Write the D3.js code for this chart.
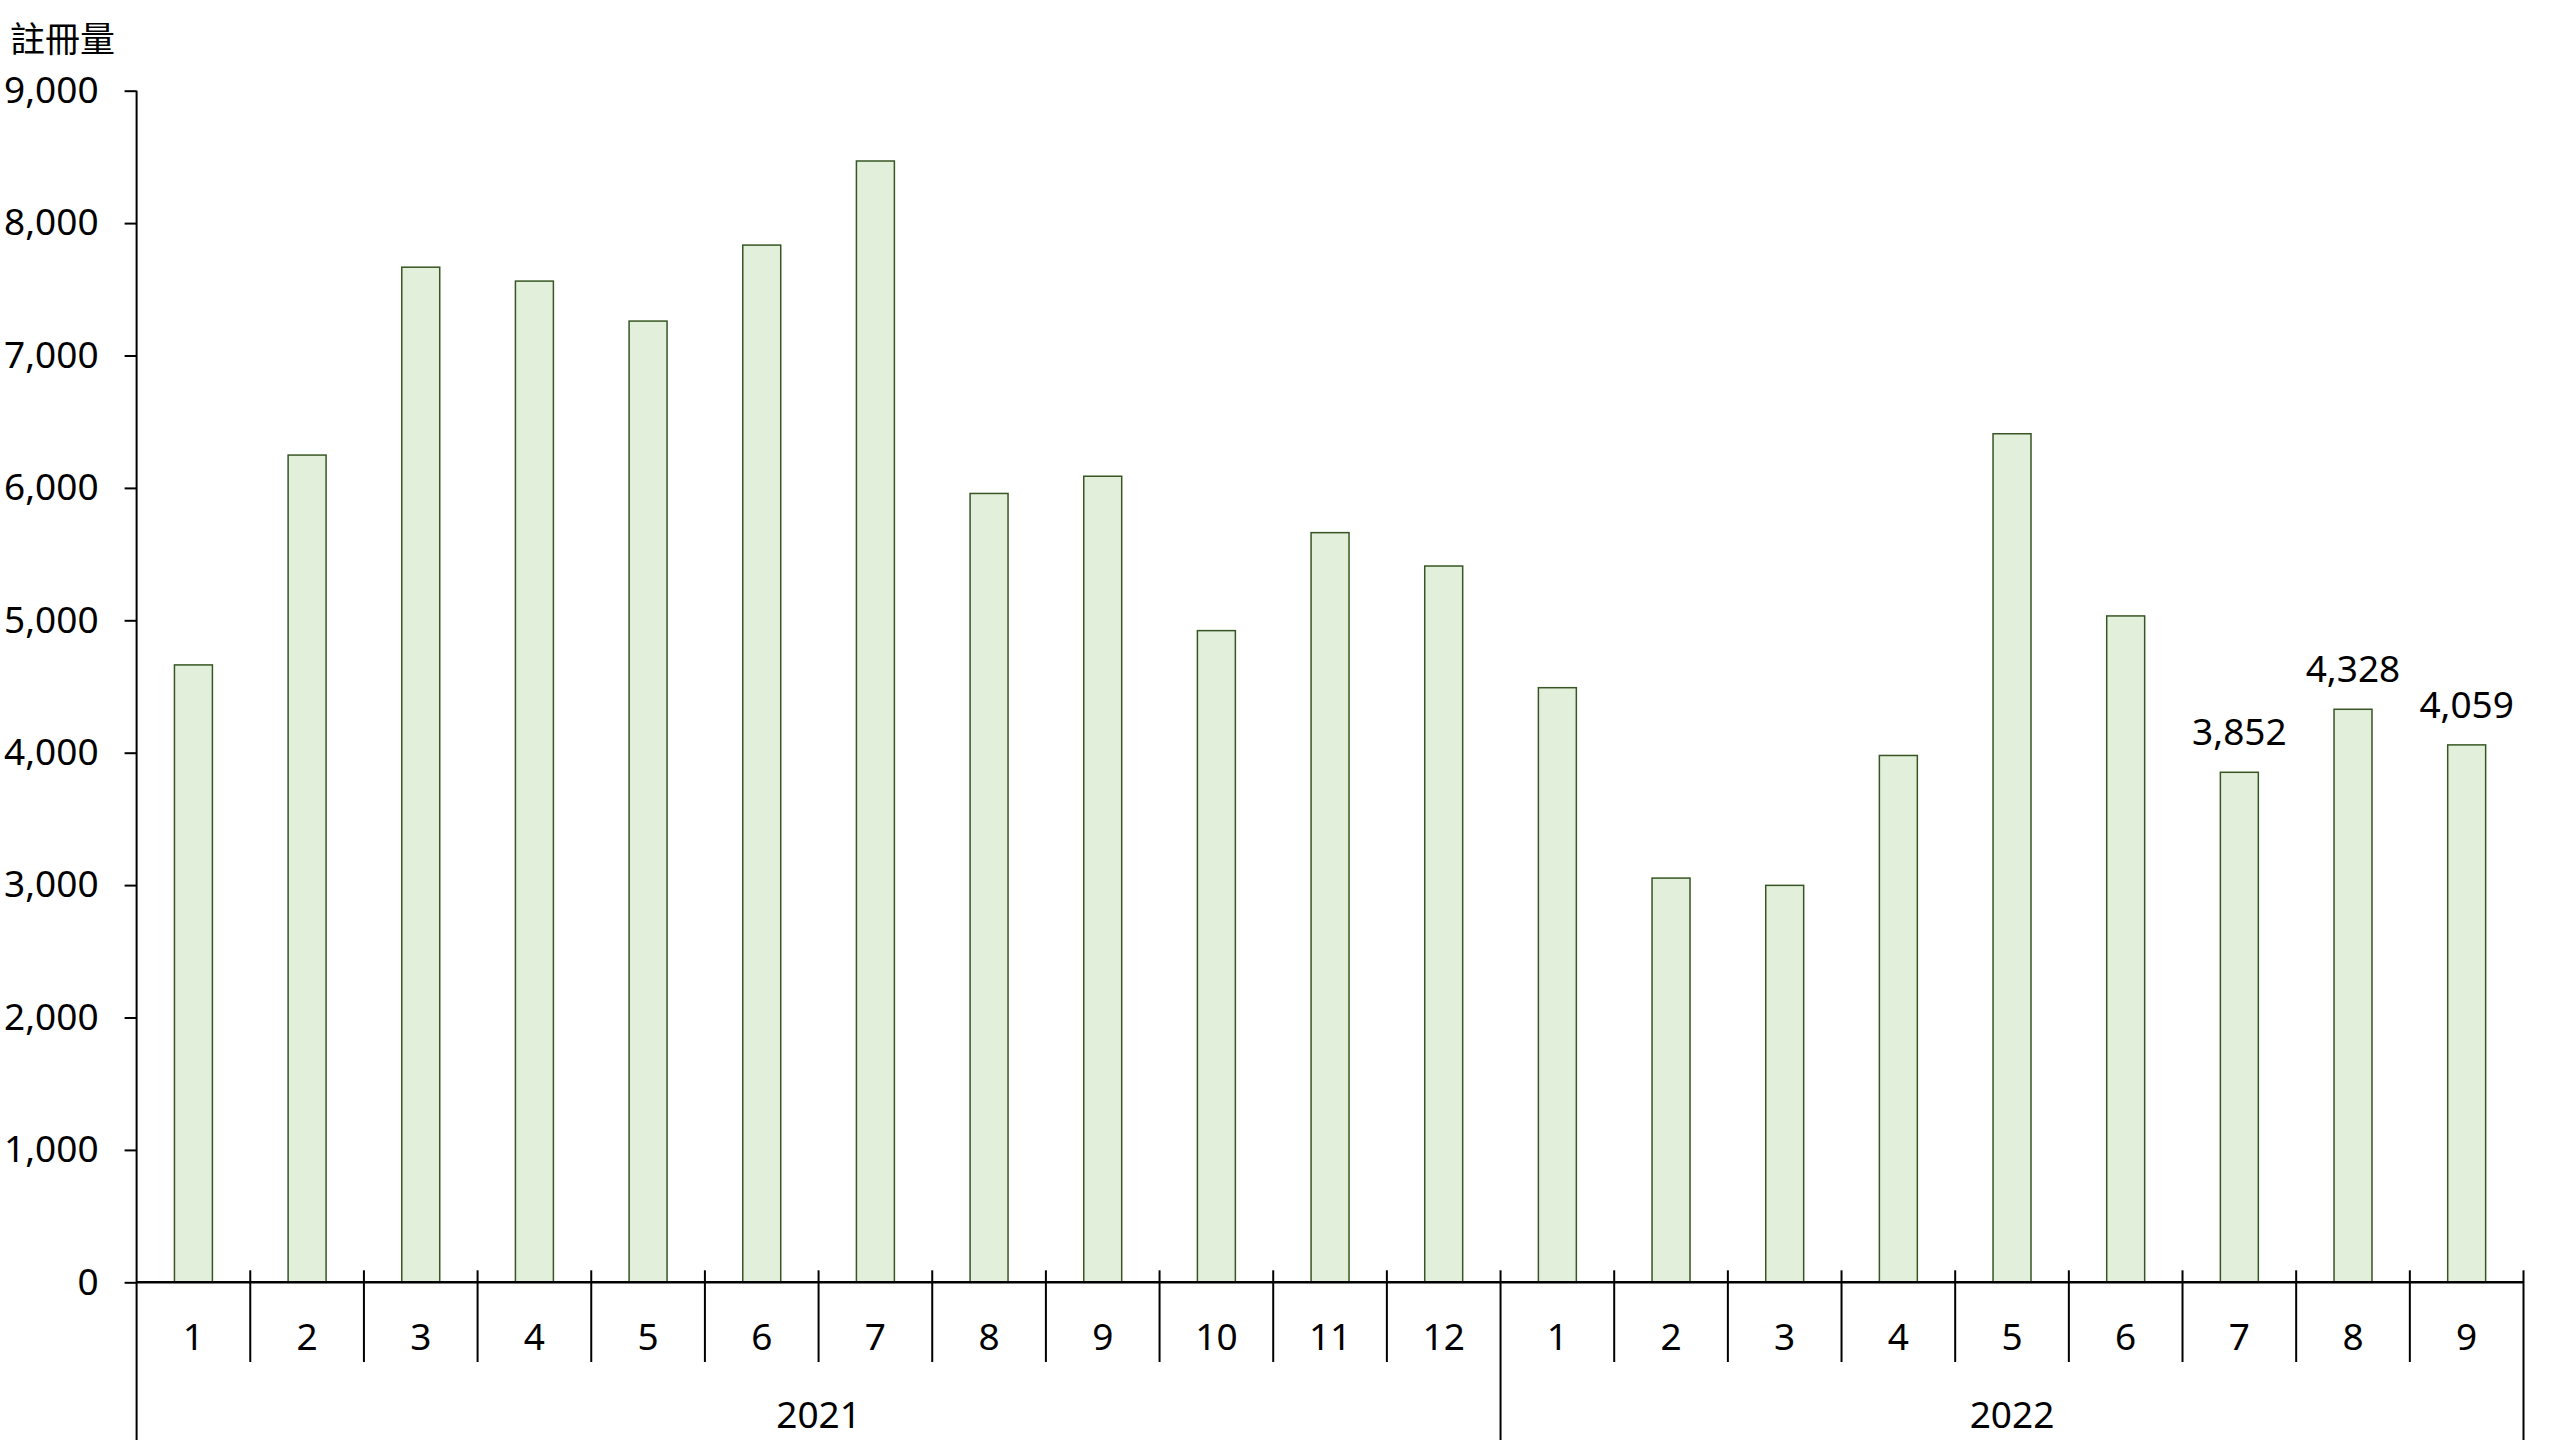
<!DOCTYPE html>
<html><head><meta charset="utf-8">
<script src="https://cdn.jsdelivr.net/npm/d3@7"></script>
<style>html,body{margin:0;padding:0;background:#fff;}svg{display:block;}</style>
</head><body>
<svg id="chart" width="2560" height="1440"></svg>
<script>
const years = ["2021", "2022"];
const months2021 = ["1","2","3","4","5","6","7","8","9","10","11","12"];
const months2022 = ["1","2","3","4","5","6","7","8","9"];
const values2021 = [4663, 6248, 7667, 7562, 7260, 7834, 8469, 5958, 6088, 4922, 5662, 5410];
const values2022 = [4491, 3053, 2998, 3979, 6409, 5033, 3852, 4328, 4059];
const labeledIdx2022 = [6, 7, 8];
const yTicks = [0,1000,2000,3000,4000,5000,6000,7000,8000,9000];
const yTitle = "註冊量";

(function(){
const rows = [];
months2021.forEach((m,i)=>rows.push({year:"2021", month:m, value:values2021[i], label:false}));
months2022.forEach((m,i)=>rows.push({year:"2022", month:m, value:values2022[i], label:labeledIdx2022.includes(i)}));
rows.forEach((r,i)=>r.key=i);

const svg = d3.select("#chart");
const mLeft = 136.6, mRight = 2523.5, mTop = 90.7, mBottom = 1282.3;
const numFont = "'Noto Sans', 'Open Sans', sans-serif";

const x = d3.scaleBand().domain(rows.map(r=>r.key)).range([mLeft, mRight]).padding(0);
const y = d3.scaleLinear().domain([0, 9000]).range([mBottom, mTop]);
const barW = x.bandwidth() * 0.334;

// bars
svg.append("g").selectAll("rect").data(rows).join("rect")
  .attr("x", d => x(d.key) + (x.bandwidth()-barW)/2)
  .attr("width", barW)
  .attr("y", d => y(d.value))
  .attr("height", d => y(0) - y(d.value))
  .attr("fill", "#e2efda")
  .attr("stroke", "#375623")
  .attr("stroke-width", 1.5);

// data labels
svg.append("g").selectAll("text").data(rows.filter(r=>r.label)).join("text")
  .attr("x", d => x(d.key) + x.bandwidth()/2)
  .attr("y", d => y(d.value) - 27)
  .attr("text-anchor", "middle")
  .attr("font-family", numFont)
  .attr("font-size", 37)
  .attr("fill", "#000")
  .text(d => d3.format(",")(d.value));

// y axis
const yAxis = svg.append("g").attr("transform", `translate(${mLeft},0)`)
  .call(d3.axisLeft(y).tickValues(yTicks).tickFormat(d3.format(",")).tickSize(12).tickPadding(26));
yAxis.select(".domain").remove();
yAxis.selectAll("line").attr("stroke", "#000").attr("stroke-width", 2);
yAxis.selectAll("text").attr("font-family", numFont).attr("font-size", 37).attr("fill", "#000");
svg.append("line").attr("x1", mLeft).attr("x2", mLeft).attr("y1", mTop).attr("y2", 1440)
  .attr("stroke", "#000").attr("stroke-width", 2);

// x axis line
svg.append("line").attr("x1", mLeft).attr("x2", mRight).attr("y1", mBottom).attr("y2", mBottom)
  .attr("stroke", "#000").attr("stroke-width", 2.5);

// separators
const yearStarts = new Set();
rows.forEach((r,i)=>{ if(i===0 || rows[i-1].year!==r.year) yearStarts.add(i); });
const sepIdx = d3.range(1, rows.length+1);
svg.append("g").selectAll("line").data(sepIdx).join("line")
  .attr("x1", i => i < rows.length ? x(i) : mRight)
  .attr("x2", i => i < rows.length ? x(i) : mRight)
  .attr("y1", mBottom - 12)
  .attr("y2", i => (i === rows.length || yearStarts.has(i)) ? 1440 : 1362)
  .attr("stroke", "#000").attr("stroke-width", 2);

// month labels
svg.append("g").selectAll("text").data(rows).join("text")
  .attr("x", d => x(d.key) + x.bandwidth()/2)
  .attr("y", 1350)
  .attr("text-anchor", "middle")
  .attr("font-family", numFont)
  .attr("font-size", 37)
  .attr("fill", "#000")
  .text(d => d.month);

// year labels
const yearGroups = years.map(yr => {
  const rs = rows.filter(r=>r.year===yr);
  const x0 = x(rs[0].key), x1 = x(rs[rs.length-1].key) + x.bandwidth();
  return {year: yr, cx: (x0+x1)/2};
});
svg.append("g").selectAll("text").data(yearGroups).join("text")
  .attr("x", d => d.cx)
  .attr("y", 1428)
  .attr("text-anchor", "middle")
  .attr("font-family", numFont)
  .attr("font-size", 37)
  .attr("fill", "#000")
  .text(d => d.year);

// y title
svg.append("text").attr("x", 10).attr("y", 52)
  .attr("font-family", "'Noto Sans CJK TC', 'Noto Sans CJK SC', sans-serif")
  .attr("font-size", 35).attr("fill", "#000")
  .text(yTitle);
})();
</script>
</body></html>
